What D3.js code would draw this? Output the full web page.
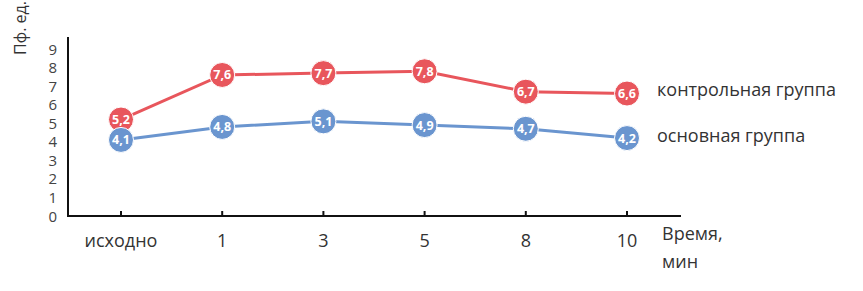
<!DOCTYPE html>
<html><head><meta charset="utf-8">
<script src="https://cdn.jsdelivr.net/npm/d3@7"></script>
<style>body{margin:0;background:#fff;} text{font-family:"Open Sans","Noto Sans",sans-serif;}</style>
</head><body>
<svg id="c" width="863" height="291"></svg>
<script>
const categories = ["исходно","1","3","5","8","10"];
const controlValues = [5.2,7.6,7.7,7.8,6.7,6.6];
const mainValues = [4.1,4.8,5.1,4.9,4.7,4.2];
const yTicks = [0,1,2,3,4,5,6,7,8,9];
const seriesNames = ["контрольная группа","основная группа"];

const svg = d3.select("#c");
const x = d3.scalePoint().domain(categories).range([121,627]);
const y = d3.scaleLinear().domain([0,9]).range([216,49]);
const red = "#e8565c", blue = "#6a95cf";

// axes
svg.append("line").attr("x1",68).attr("x2",68).attr("y1",37).attr("y2",216).attr("stroke","#111").attr("stroke-width",2);
svg.append("line").attr("x1",67).attr("x2",681).attr("y1",216).attr("y2",216).attr("stroke","#111").attr("stroke-width",2);
categories.forEach(c=>{
  svg.append("line").attr("x1",x(c)).attr("x2",x(c)).attr("y1",211).attr("y2",216).attr("stroke","#111").attr("stroke-width",2);
  svg.append("text").attr("x",x(c)).attr("y",247).attr("text-anchor","middle").attr("font-size",18).attr("fill","#333").text(c);
});
yTicks.forEach(t=>{
  svg.append("text").attr("x",57).attr("y",y(t)+5.5).attr("text-anchor","end").attr("font-size",15).attr("fill","#444").text(t);
});
svg.append("text").attr("transform","translate(26,28) rotate(-90)").attr("text-anchor","middle").attr("font-size",16).attr("fill","#333").text("Пф. ед.");
svg.append("text").attr("x",662).attr("y",240).attr("font-size",18).attr("fill","#333").text("Время,");
svg.append("text").attr("x",662).attr("y",268).attr("font-size",18).attr("fill","#333").text("мин");

const line = d3.line().x((d,i)=>x(categories[i])).y(d=>y(d));
function series(vals,col){
  svg.append("path").datum(vals).attr("d",line).attr("fill","none").attr("stroke",col).attr("stroke-width",3);
  const g = svg.append("g").selectAll("g").data(vals).join("g").attr("transform",(d,i)=>`translate(${x(categories[i])},${y(d)})`);
  g.append("circle").attr("r",12.5).attr("fill",col).attr("stroke","#fff").attr("stroke-width",1);
  g.append("text").attr("y",4.5).attr("text-anchor","middle").attr("font-size",12.5).attr("font-weight","bold").attr("fill","#fff").text(d=>String(d).replace(".",","));
}
series(controlValues,red);
series(mainValues,blue);

svg.append("text").attr("x",657).attr("y",96).attr("font-size",18).attr("fill","#333").text(seriesNames[0]);
svg.append("text").attr("x",657).attr("y",142).attr("font-size",18).attr("fill","#333").text(seriesNames[1]);
</script>
</body></html>
